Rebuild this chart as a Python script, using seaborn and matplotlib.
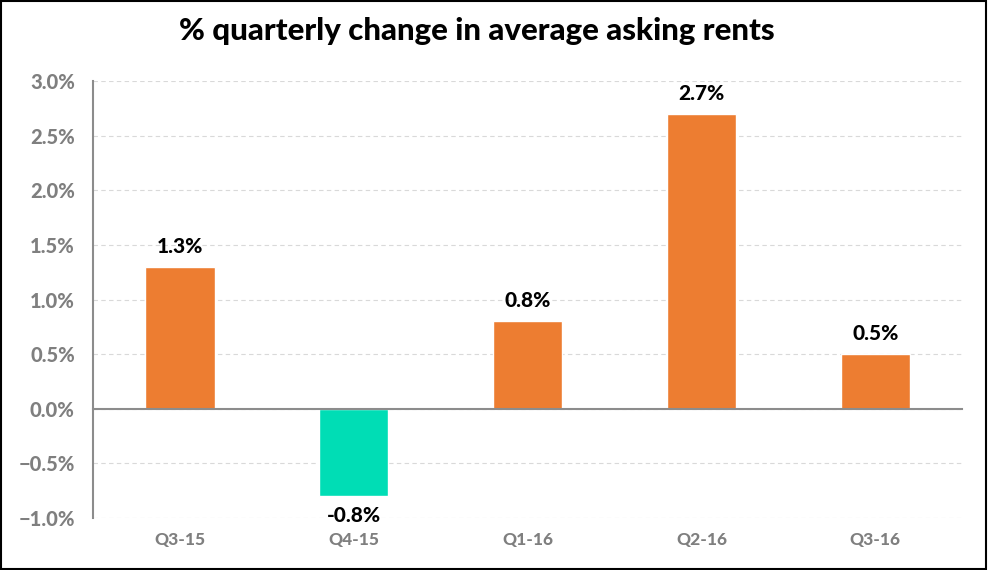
import pandas as pd
import numpy as np
import matplotlib.pyplot as plt
import seaborn as sns
from matplotlib.patches import Rectangle
from matplotlib.ticker import PercentFormatter, FixedLocator

# data
quarters = ['Q3-15', 'Q4-15', 'Q1-16', 'Q2-16', 'Q3-16']
change_pct = [1.3, -0.8, 0.8, 2.7, 0.5]
value_labels = ['1.3%', '-0.8%', '0.8%', '2.7%', '0.5%']

orange = '#ED7D31'
teal = '#00DDB5'
grey = '#7F7F7F'

df = pd.DataFrame({'quarter': quarters, 'change': change_pct})
df['sign'] = np.where(df['change'] < 0, 'neg', 'pos')

sns.set_style('white')
plt.rcParams['font.family'] = ['Lato', 'DejaVu Sans']

fig = plt.figure(figsize=(9.88, 5.70), dpi=100)
ax = fig.add_axes([0.094, 0.091, 0.880, 0.767])

sns.barplot(data=df, x='quarter', y='change', hue='sign',
            palette={'pos': orange, 'neg': teal}, width=0.4, saturation=1,
            dodge=False, legend=False, ax=ax)

ax.set_ylim(-1.0, 3.0)
ax.set_xlim(-0.5, 4.5)
ax.yaxis.set_major_locator(FixedLocator(np.arange(-1.0, 3.01, 0.5)))
ax.yaxis.set_major_formatter(PercentFormatter(decimals=1))
ax.grid(axis='y', color='#D9D9D9', linestyle=(0, (4, 3)), linewidth=0.8)
ax.set_axisbelow(True)

# axis styling
for s in ['top', 'right']:
    ax.spines[s].set_visible(False)
ax.spines['left'].set_color('#8C8C8C')
ax.spines['left'].set_linewidth(1.5)
ax.spines['bottom'].set_position(('data', 0))
ax.spines['bottom'].set_color('#8C8C8C')
ax.spines['bottom'].set_linewidth(1.5)

ax.tick_params(axis='y', direction='out', length=7, width=1.5, color='#8C8C8C',
               labelsize=14.5, labelcolor=grey, pad=6)
for lab in ax.get_yticklabels():
    lab.set_fontweight('black')

ax.xaxis.set_minor_locator(FixedLocator(np.arange(-0.5, 4.6, 1.0)))
ax.tick_params(axis='x', which='minor', direction='out', length=5, width=1.5,
               color='#8C8C8C')
ax.tick_params(axis='x', which='major', length=0, pad=89, labelsize=12.5,
               labelcolor=grey)
for lab in ax.get_xticklabels():
    lab.set_fontweight('black')

ax.set_xlabel('')
ax.set_ylabel('')

# value labels above / below bars
for i, (v, t) in enumerate(zip(change_pct, value_labels)):
    off = 8 if v >= 0 else -7
    ax.annotate(t, (i, v), xytext=(0, off), textcoords='offset points',
                ha='center', va='bottom' if v >= 0 else 'top',
                fontsize=15, fontweight='black', color='black')

fig.text(477 / 988, 1 - 31 / 570, '% quarterly change in average asking rents',
         ha='center', va='center', fontsize=22.5, fontweight='black', color='black')

# frame around the whole picture
fig.patches.append(Rectangle((0.001, 0.002), 0.997, 0.996, transform=fig.transFigure,
                             fill=False, edgecolor='black', linewidth=1.5))

fig.savefig('out.png', dpi=100)
